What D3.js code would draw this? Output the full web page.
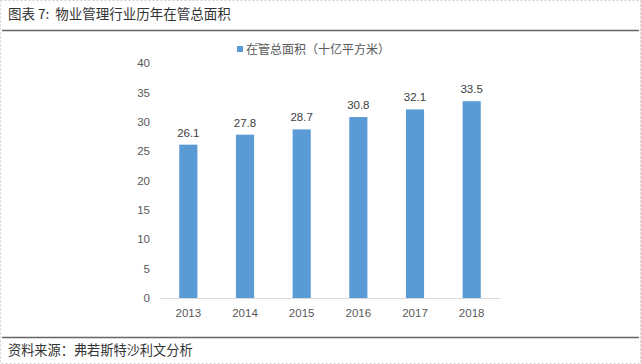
<!DOCTYPE html>
<html><head><meta charset="utf-8">
<script src="https://cdn.jsdelivr.net/npm/d3@7/dist/d3.min.js"></script>
<style>
html,body{margin:0;padding:0;background:#fff;}
svg{display:block;font-family:"Noto Sans CJK SC","Noto Sans",sans-serif;}
</style></head>
<body><svg id="c" width="641" height="364"></svg>
<script>
const categories = ["2013","2014","2015","2016","2017","2018"];
const values = [26.1, 27.8, 28.7, 30.8, 32.1, 33.5];
const yTicks = [0,5,10,15,20,25,30,35,40];
const seriesName = "在管总面积（十亿平方米）";
const titleText = "图表 7:  物业管理行业历年在管总面积";
const sourceText = "资料来源：弗若斯特沙利文分析";

const svg = d3.select("#c");
const W = 641, H = 364;

// outer dashed border
svg.append("rect").attr("x",0.5).attr("y",0.5).attr("width",W-1).attr("height",H-1)
  .attr("fill","none").attr("stroke","#cfcfcf").attr("stroke-dasharray","2,2");

// title
svg.append("text").attr("x",8).attr("y",19).attr("font-size",13.5).attr("fill","#333")
  .attr("xml:space","preserve").style("white-space","pre")
  .text(titleText);
svg.append("line").attr("x1",2).attr("x2",W-2).attr("y1",30.5).attr("y2",30.5)
  .attr("stroke","#666").attr("stroke-width",1.5);

// footer
svg.append("line").attr("x1",2).attr("x2",W-2).attr("y1",337.5).attr("y2",337.5)
  .attr("stroke","#666").attr("stroke-width",1.5);
svg.append("text").attr("x",8).attr("y",355).attr("font-size",13.2).attr("fill","#333")
  .text(sourceText);

const x = d3.scaleBand().domain(categories).range([160,500]).paddingInner(0.68).paddingOuter(0.34);
const y = d3.scaleLinear().domain([0,40]).range([298,63]);

// y axis labels
const yAxis = d3.axisLeft(y).tickValues(yTicks).tickSize(0).tickPadding(0);
const gy = svg.append("g").attr("transform","translate(150,0)").call(yAxis);
gy.select(".domain").remove();
gy.selectAll("text").attr("font-size",11.5).attr("fill","#595959")
  .attr("font-family","'Liberation Sans',Arial,sans-serif");

// x axis
const xAxis = d3.axisBottom(x).tickSize(0).tickPadding(11);
const gx = svg.append("g").attr("transform","translate(0,298)").call(xAxis);
gx.select(".domain").attr("stroke","#d9d9d9").attr("stroke-width",1.2);
gx.selectAll("text").attr("font-size",11.5).attr("fill","#595959")
  .attr("font-family","'Liberation Sans',Arial,sans-serif");

// bars
svg.append("g").selectAll("rect").data(values).join("rect")
  .attr("x",(d,i)=>x(categories[i]))
  .attr("width",x.bandwidth())
  .attr("y",d=>y(d))
  .attr("height",d=>y(0)-y(d))
  .attr("fill","#5B9BD5");

// value labels
svg.append("g").selectAll("text").data(values).join("text")
  .attr("x",(d,i)=>x(categories[i])+x.bandwidth()/2)
  .attr("y",d=>y(d)-8)
  .attr("text-anchor","middle").attr("font-size",11.5).attr("fill","#404040")
  .attr("font-family","'Liberation Sans',Arial,sans-serif")
  .text(d=>d.toFixed(1));

// legend
svg.append("line").attr("x1",255).attr("x2",260).attr("y1",43.5).attr("y2",43.5)
  .attr("stroke","#999").attr("stroke-width",1);
svg.append("rect").attr("x",237).attr("y",46).attr("width",6).attr("height",6).attr("fill","#5B9BD5");
svg.append("text").attr("x",246).attr("y",54).attr("font-size",12).attr("fill","#595959")
  .text(seriesName);
</script></body></html>
